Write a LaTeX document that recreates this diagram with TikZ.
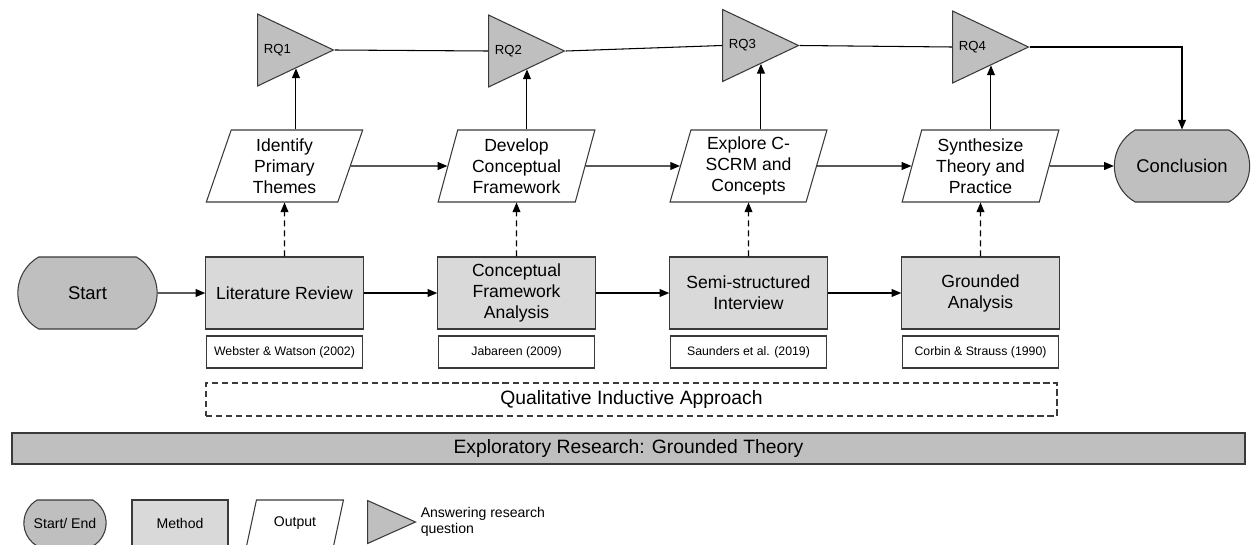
\documentclass[tikz,border=0pt]{standalone}
\usepackage{fontspec}
\setmainfont{Liberation Sans}
\usetikzlibrary{shapes.geometric,shapes.misc,arrows.meta,positioning}
\definecolor{termgray}{HTML}{BFBFBF}
\definecolor{methodgray}{HTML}{D9D9D9}
\definecolor{edgegray}{HTML}{3A3A3A}

\begin{document}
\begin{tikzpicture}[node distance=4.64cm, >={Triangle[length=5.5pt,width=4.5pt]},
 termnode/.style={rounded rectangle, rounded rectangle arc length=120, draw=edgegray, fill=termgray, line width=0.6pt, minimum height=1.44cm, font=\fontsize{10.5}{12.5}\selectfont},
 methodnode/.style={rectangle, draw=edgegray, fill=methodgray, line width=0.6pt, minimum width=3.15cm, minimum height=1.44cm, align=center, font=\fontsize{10}{12}\selectfont},
 outnode/.style={trapezium, trapezium left angle=77.5, trapezium right angle=102.5, trapezium stretches=true, draw=edgegray, fill=white, line width=0.6pt, minimum width=3.14cm, minimum height=1.44cm, align=center, inner xsep=0pt, font=\fontsize{10}{12}\selectfont},
 citenode/.style={rectangle, draw=edgegray, line width=0.6pt, minimum width=3.12cm, minimum height=0.64cm, font=\fontsize{7}{8.5}\selectfont},
 rqnode/.style={isosceles triangle, isosceles triangle stretches, draw=edgegray, fill=termgray, line width=0.6pt, minimum width=1.44cm, minimum height=1.52cm, inner sep=0pt, anchor=west,
   label={[anchor=west, inner sep=0pt, label distance=-0.13cm, font=\fontsize{7.5}{9}\selectfont]west:#1}},
 ]
    \useasboundingbox (0,0) rectangle (25.14,-10.88);

    % methods
    \node[termnode, minimum width=3.02cm] (s) at (1.75,-5.86) {Start};
    \node[methodnode] (m1) at (5.69,-5.86) {Literature Review};
    \node[methodnode] (m2) [right of=m1] {Conceptual\\Framework\\Analysis};
    \node[methodnode] (m3) [right of=m2] {Semi-structured\\Interview};
    \node[methodnode] (m4) [right of=m3] {Grounded\\Analysis};

    % references under each method
    \node[citenode] (c1) [below of=m1, node distance=1.18cm] {Webster \& Watson (2002)};
    \node[citenode] (c2) [below of=m2, node distance=1.18cm] {Jabareen (2009)};
    \node[citenode] (c3) [below of=m3, node distance=1.18cm] {Saunders et al. (2019)};
    \node[citenode] (c4) [below of=m4, node distance=1.18cm] {Corbin \& Strauss (1990)};

    % outputs
    \node[outnode] (o1) [above of=m1, node distance=2.54cm] {Identify\\Primary\\Themes};
    \node[outnode] (o2) [above of=m2, node distance=2.54cm] {Develop\\Conceptual\\Framework};
    \node[outnode] (o3) [above of=m3, node distance=2.54cm] {Explore C-\\SCRM and\\Concepts};
    \node[outnode] (o4) [above of=m4, node distance=2.54cm] {Synthesize\\Theory and\\Practice};
    \node[termnode, minimum width=2.94cm] (e) [right of=o4, node distance=4.03cm] {Conclusion};

    % research questions
    \node[rqnode=RQ1] (q1) at (5.14,-1.00) {};
    \node[rqnode=RQ2] (q2) at (9.76,-1.02) {};
    \node[rqnode=RQ3] (q3) at (14.44,-0.91) {};
    \node[rqnode=RQ4] (q4) at (19.04,-0.94) {};

    % approach and research design
    \node[draw=edgegray, line width=0.6pt, dash pattern=on 3.5pt off 2.2pt, minimum width=17.02cm, minimum height=0.66cm, font=\fontsize{11}{13}\selectfont] (qa) at (12.63,-7.99) {Qualitative Inductive Approach};
    \node[draw=edgegray, fill=termgray, line width=0.9pt, minimum width=24.66cm, minimum height=0.62cm, font=\fontsize{11}{13}\selectfont] (gt) at (12.57,-8.97) {Exploratory Research: Grounded Theory};

    % legend
    \node[termnode, minimum width=1.88cm, minimum height=0.92cm, font=\fontsize{8}{9.5}\selectfont] (k1) at (1.30,-10.46) {Start/ End};
    \node[methodnode, minimum width=1.92cm, minimum height=0.92cm, font=\fontsize{8}{9.5}\selectfont] (k2) at (3.60,-10.46) {Method};
    \node[outnode, minimum width=1.94cm, minimum height=0.92cm, font=\fontsize{8}{9.5}\selectfont] (k3) at (5.90,-10.46) {Output};
    \node[isosceles triangle, isosceles triangle stretches, draw=edgegray, fill=termgray, line width=0.6pt, minimum width=0.86cm, minimum height=0.96cm, inner sep=0pt, anchor=west,
      label={[align=left, inner sep=0pt, label distance=0.07cm, font=\fontsize{8}{9.5}\selectfont]east:Answering research\\question}] (k4) at (7.34,-10.44) {};

    \path [->, black, line width=0.6pt] (s) edge (m1)
                             (m1) edge (m2)
                             (m2) edge (m3)
                             (m3) edge (m4)
                             (o1) edge (o2)
                             (o2) edge (o3)
                             (o3) edge (o4)
                             (o4) edge (e)
                             (o1.north -| q1.right side) edge (q1.right side)
                             (o2.north -| q2.right side) edge (q2.right side)
                             (o3.north -| q3.right side) edge (q3.right side)
                             (o4.north -| q4.right side) edge (q4.right side);
    \path [->, black, line width=0.6pt, dash pattern=on 3.5pt off 2.2pt]
                             (m1) edge (o1)
                             (m2) edge (o2)
                             (m3) edge (o3)
                             (m4) edge (o4);
    \path [-, black, line width=0.6pt] (q1.apex) edge (q2.west)
                             (q2.apex) edge (q3.west)
                             (q3.apex) edge (q4.west);
    \draw [->, black, line width=0.6pt] (q4.apex) -| (e);
\end{tikzpicture}
\end{document}
